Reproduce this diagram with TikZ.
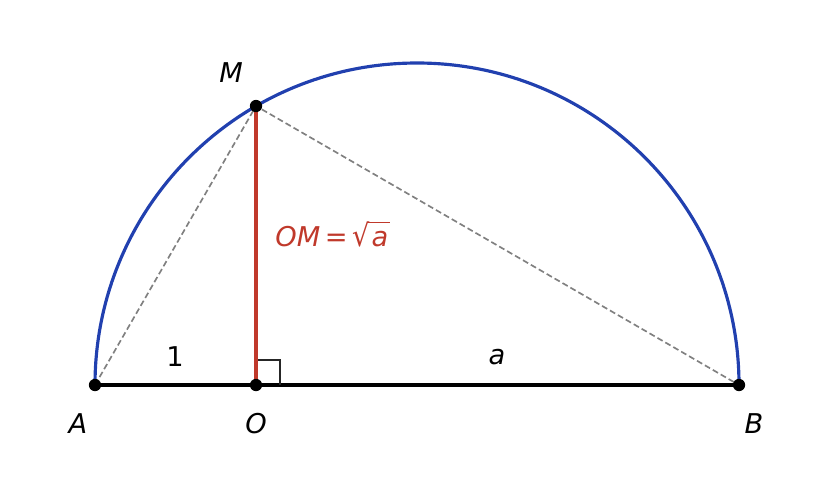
\documentclass[tikz,border=0pt]{standalone}
\usepackage{fontspec}
\setmainfont{DejaVu Sans}
\begin{document}
\begin{tikzpicture}[x=0.02cm,y=-0.02cm,
  lbl/.style={font=\fontsize{15.5}{18}\selectfont\itshape, inner sep=0pt},
  dot/.style={circle, fill=black, minimum size=7pt, inner sep=0pt},
  aux/.style={gray, line width=0.95pt, dash pattern=on 3.4pt off 1.8pt}]
\definecolor{arcblue}{RGB}{33,64,175}
\definecolor{segred}{RGB}{192,57,43}
\useasboundingbox (0,0) rectangle (834,480);
\coordinate (A) at (95,385);
\coordinate (O) at (256,385);
\coordinate (B) at (739,385);
\coordinate (M) at (256,106);
% semicircle
\draw[arcblue, line width=1.8pt] (B) arc[start angle=0, end angle=-180, radius=322];
% dashed chords
\draw[aux] (A) -- (M) -- (B);
% diameter
\draw[black, line width=1.8pt] (A) -- (B);
% right angle
\draw[black!85, line width=0.8pt] (256,360) -- (280,360) -- (280,385);
% OM segment
\draw[segred, line width=2.6pt] (O) -- (M);
% dots
\node[dot] (nA) at (A) {};
\node[dot] (nO) at (O) {};
\node[dot] (nB) at (B) {};
\node[dot] (nM) at (M) {};
% labels
\node[lbl] (lM) at (231,73) {M};
\node[lbl] (lA) at (78,424) {A};
\node[lbl] (lO) at (256,424) {O};
\node[lbl] (lB) at (754,424) {B};
\node[lbl, font=\fontsize{15.5}{18}\selectfont] (l1) at (175,357) {1};
\node[lbl] (la) at (497,357) {a};
\node[lbl, anchor=west, text=segred] (lOM) at (275,234) {OM\,=\,\upshape\scalebox{1}[1.12]{√}\kern-1.4pt$\overline{\mbox{\itshape\,a\kern1pt\vphantom{√}}}$};
\end{tikzpicture}
\end{document}
